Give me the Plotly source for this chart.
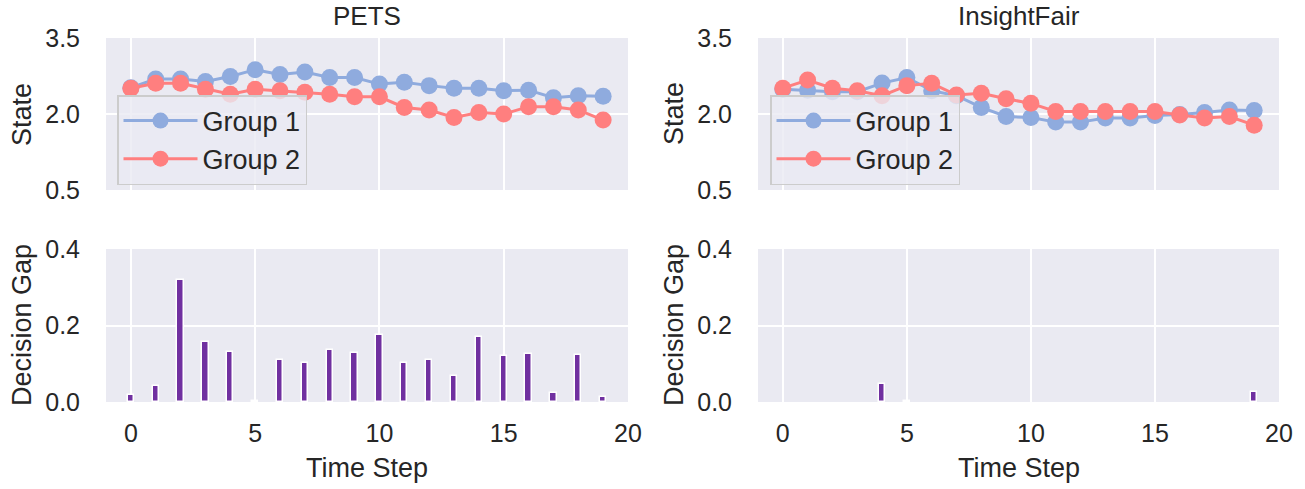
import plotly.graph_objects as go

steps = list(range(20))

# Top-left (PETS) state trajectories
pets_group1 = [2.52, 2.69, 2.69, 2.64, 2.74, 2.875, 2.78, 2.83, 2.72, 2.72,
               2.59, 2.625, 2.56, 2.51, 2.51, 2.46, 2.47, 2.32, 2.36, 2.35]
pets_group2 = [2.51, 2.605, 2.605, 2.49, 2.39, 2.49, 2.46, 2.43, 2.39, 2.34,
               2.34, 2.13, 2.08, 1.93, 2.03, 2.0, 2.145, 2.145, 2.08, 1.88]

# Top-right (InsightFair) state trajectories
fair_group1 = [2.49, 2.47, 2.44, 2.44, 2.61, 2.72, 2.46, 2.36, 2.13, 1.95,
               1.93, 1.84, 1.84, 1.92, 1.92, 1.97, 1.99, 2.03, 2.08, 2.07]
fair_group2 = [2.51, 2.67, 2.51, 2.46, 2.36, 2.56, 2.605, 2.375, 2.41, 2.30,
               2.21, 2.05, 2.05, 2.05, 2.05, 2.05, 1.98, 1.92, 1.95, 1.78]

# Decision gaps
pets_gap = [0.019, 0.043, 0.32, 0.158, 0.131, 0.002, 0.109, 0.102, 0.136, 0.129,
            0.175, 0.101, 0.109, 0.067, 0.170, 0.121, 0.125, 0.023, 0.124, 0.014]
fair_gap = [0.0, 0.0, 0.0, 0.0, 0.047, 0.002, 0.0, 0.0, 0.0, 0.0,
            0.0, 0.0, 0.0, 0.0, 0.0, 0.0, 0.0, 0.0, 0.0, 0.025]

titles = ["PETS", "InsightFair"]
x_ticks = [0, 5, 10, 15, 20]
state_ticks = [0.5, 2.0, 3.5]
gap_ticks = [0.0, 0.2, 0.4]

BLUE = "#8FABDE"
RED = "#FF7F7F"
PURPLE = "#7030A0"
BG = "#EAEAF2"
TXT = "#262626"
FONT = "Liberation Sans, Arial, sans-serif"
FS_TICK = 25
FS_LABEL = 27
FS_TITLE = 26
FS_LEG = 27

W, H = 1305, 489
def px_x(v):
    return v / W
def px_y(v):
    return 1 - v / H

left_dom = [px_x(106), px_x(628)]
right_dom = [px_x(758), px_x(1279)]
top_dom = [px_y(190), px_y(38)]
bot_dom = [px_y(402), px_y(249)]

fig = go.Figure()

for i, (g1, g2) in enumerate([(pets_group1, pets_group2), (fair_group1, fair_group2)]):
    xa = "x" if i == 0 else "x2"
    ya = "y" if i == 0 else "y2"
    lg = "legend" if i == 0 else "legend2"
    fig.add_trace(go.Scatter(x=steps, y=g1, mode="lines+markers", name="Group 1",
                             line=dict(color=BLUE, width=3), marker=dict(color=BLUE, size=17),
                             xaxis=xa, yaxis=ya, legend=lg))
    fig.add_trace(go.Scatter(x=steps, y=g2, mode="lines+markers", name="Group 2",
                             line=dict(color=RED, width=3), marker=dict(color=RED, size=17),
                             xaxis=xa, yaxis=ya, legend=lg))

for i, gap in enumerate([pets_gap, fair_gap]):
    xa = "x3" if i == 0 else "x4"
    ya = "y3" if i == 0 else "y4"
    edge_w = [1.5 if v > 0 else 0 for v in gap]
    fig.add_trace(go.Bar(x=steps, y=gap, width=0.25, showlegend=False,
                         marker=dict(color=PURPLE, line=dict(color="white", width=edge_w)),
                         xaxis=xa, yaxis=ya))

axis_common = dict(showgrid=True, gridcolor="white", gridwidth=1.5, zeroline=False,
                   showline=False, tickfont=dict(family=FONT, size=FS_TICK, color=TXT),
                   ticks="", automargin=False)
xcommon = dict(range=[-1, 20], tickvals=x_ticks, ticklabelstandoff=14, **axis_common)
ycommon = dict(tickformat=".1f", ticklabelstandoff=25, **axis_common)

leg_common = dict(xanchor="left", yanchor="top", traceorder="normal",
                  bgcolor="rgba(234,234,242,0.8)", bordercolor="#CCCCCC", borderwidth=1.5,
                  font=dict(family=FONT, size=FS_LEG, color=TXT), itemwidth=74)

fig.update_layout(
    width=W, height=H,
    margin=dict(l=0, r=0, t=0, b=0),
    paper_bgcolor="white", plot_bgcolor=BG,
    font=dict(family=FONT, size=FS_TICK, color=TXT),
    bargap=0,
    xaxis=dict(domain=left_dom, showticklabels=False, anchor="y", **xcommon),
    yaxis=dict(domain=top_dom, range=[0.5, 3.5], tickvals=state_ticks, anchor="x", **ycommon),
    xaxis2=dict(domain=right_dom, showticklabels=False, anchor="y2", **xcommon),
    yaxis2=dict(domain=top_dom, range=[0.5, 3.5], tickvals=state_ticks, anchor="x2", **ycommon),
    xaxis3=dict(domain=left_dom, anchor="y3", **xcommon),
    yaxis3=dict(domain=bot_dom, range=[0, 0.4], tickvals=gap_ticks, anchor="x3", **ycommon),
    xaxis4=dict(domain=right_dom, anchor="y4", **xcommon),
    yaxis4=dict(domain=bot_dom, range=[0, 0.4], tickvals=gap_ticks, anchor="x4", **ycommon),
    legend=dict(x=px_x(117), y=px_y(95), **leg_common),
    legend2=dict(x=px_x(770), y=px_y(95), **leg_common),
)

annots = []
for i, t in enumerate(titles):
    cx = (106 + 628) / 2 if i == 0 else (758 + 1279) / 2
    annots.append(dict(text=t, x=px_x(cx), y=px_y(16), xref="paper", yref="paper",
                       showarrow=False, xanchor="center", yanchor="middle",
                       font=dict(family=FONT, size=FS_TITLE, color=TXT)))
    annots.append(dict(text="Time Step", x=px_x(cx), y=px_y(468), xref="paper", yref="paper",
                       showarrow=False, xanchor="center", yanchor="middle",
                       font=dict(family=FONT, size=FS_LABEL, color=TXT)))
for lx in [22, 674]:
    annots.append(dict(text="State", x=px_x(lx), y=px_y(114), xref="paper", yref="paper",
                       showarrow=False, textangle=-90, xanchor="center", yanchor="middle",
                       font=dict(family=FONT, size=FS_LABEL, color=TXT)))
    annots.append(dict(text="Decision Gap", x=px_x(lx), y=px_y(325), xref="paper", yref="paper",
                       showarrow=False, textangle=-90, xanchor="center", yanchor="middle",
                       font=dict(family=FONT, size=FS_LABEL, color=TXT)))
fig.update_layout(annotations=annots)

fig.write_html("out.html", config={"displayModeBar": False},
               post_script="document.body.style.margin='0px';document.body.style.overflow='hidden';")
